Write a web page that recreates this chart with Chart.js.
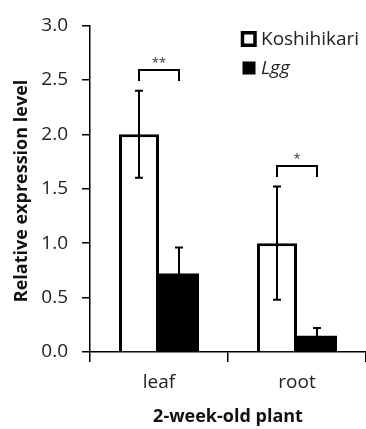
<!DOCTYPE html>
<html>
<head>
<meta charset="utf-8">
<script src="https://cdn.jsdelivr.net/npm/chart.js@4"></script>
<style>
  html, body { margin: 0; padding: 0; background: #fff; }
  #wrap { width: 366px; height: 429px; }
</style>
</head>
<body>
<div id="wrap"><canvas id="c" width="366" height="429"></canvas></div>
<script>
// Tissues sampled from 2-week-old plants
const categories = ['leaf', 'root'];
// Mean relative expression level per genotype
const seriesNames = ['Koshihikari', 'Lgg'];
const koshihikari = [2.0, 1.0];
const lgg = [0.72, 0.15];
// Standard deviations for the error bars
const koshihikariSD = [0.40, 0.52];
const lggSD = [0.24, 0.07];
// Significance marks between the two genotypes in each tissue
const sigLabels = ['**', '*'];
const sigLevels = [2.59, 1.71];
// Y-axis tick settings
const yMin = 0, yMax = 3, yStep = 0.5;
const yTitle = 'Relative expression level';
const xTitle = '2-week-old plant';

const FONT = '"Open Sans", "Noto Sans", sans-serif';

const extras = {
  id: 'extras',
  afterDatasetsDraw(chart) {
    const ctx = chart.ctx;
    const y = chart.scales.y;
    const sds = [koshihikariSD, lggSD];
    ctx.save();
    ctx.strokeStyle = '#000';
    ctx.lineWidth = 2;
    // error bars
    chart.data.datasets.forEach((ds, di) => {
      const meta = chart.getDatasetMeta(di);
      meta.data.forEach((bar, i) => {
        const v = ds.data[i], sd = sds[di][i];
        const x = Math.round(bar.x);
        const top = y.getPixelForValue(v + sd);
        const bot = y.getPixelForValue(v - sd);
        ctx.beginPath();
        ctx.moveTo(x, top); ctx.lineTo(x, bot);
        ctx.moveTo(x - 4, top); ctx.lineTo(x + 4, top);
        ctx.moveTo(x - 4, bot); ctx.lineTo(x + 4, bot);
        ctx.stroke();
      });
    });
    // significance brackets
    const m0 = chart.getDatasetMeta(0), m1 = chart.getDatasetMeta(1);
    ctx.fillStyle = '#333';
    ctx.font = '13px ' + FONT;
    ctx.textAlign = 'center';
    ctx.textBaseline = 'alphabetic';
    sigLevels.forEach((lv, i) => {
      const x0 = Math.round(m0.data[i].x), x1 = Math.round(m1.data[i].x);
      const py = Math.round(y.getPixelForValue(lv));
      ctx.beginPath();
      ctx.moveTo(x0, py + 11); ctx.lineTo(x0, py);
      ctx.lineTo(x1, py); ctx.lineTo(x1, py + 11);
      ctx.stroke();
      ctx.fillText(sigLabels[i], (x0 + x1) / 2, py - 3);
    });
    ctx.restore();
  },
  afterDraw(chart) {
    const ctx = chart.ctx;
    ctx.save();
    // axis titles
    ctx.fillStyle = '#111';
    ctx.font = 'bold 18px ' + FONT;
    ctx.textAlign = 'center';
    ctx.textBaseline = 'alphabetic';
    ctx.fillText(xTitle, 228, 422);
    ctx.translate(27, 191);
    ctx.rotate(-Math.PI / 2);
    ctx.fillText(yTitle, 0, 0);
    ctx.restore();

    // legend
    ctx.save();
    ctx.textBaseline = 'alphabetic';
    ctx.textAlign = 'left';
    ctx.fillStyle = '#000';
    ctx.strokeStyle = '#000';
    ctx.lineWidth = 3.5;
    ctx.strokeRect(242.5, 32.75, 12.5, 12.5);
    ctx.fillRect(242.5, 61.5, 13, 13);
    ctx.fillStyle = '#222';
    ctx.font = '19px ' + FONT;
    ctx.fillText(seriesNames[0], 261, 44.5);
    ctx.font = 'italic 19px ' + FONT;
    ctx.fillText(seriesNames[1], 261, 73.5);
    ctx.restore();
  }
};

new Chart(document.getElementById('c'), {
  type: 'bar',
  data: {
    labels: categories,
    datasets: [
      {
        label: seriesNames[0],
        data: koshihikari,
        backgroundColor: '#fff',
        borderColor: '#000',
        borderWidth: 3,
        borderSkipped: 'start'
      },
      {
        label: seriesNames[1],
        data: lgg,
        backgroundColor: '#000',
        borderColor: '#000',
        borderWidth: 0
      }
    ]
  },
  options: {
    responsive: false,
    animation: false,
    events: [],
    layout: { padding: { top: 16, left: 0, right: 0, bottom: 0 } },
    datasets: { bar: { categoryPercentage: 0.58, barPercentage: 1.0 } },
    plugins: {
      legend: { display: false },
      tooltip: { enabled: false }
    },
    scales: {
      x: {
        offset: true,
        grid: { offset: true, drawOnChartArea: false, drawTicks: true, tickLength: 10, color: '#000', lineWidth: 1.5 },
        border: { display: true, color: '#000', width: 1.5 },
        ticks: { color: '#222', font: { family: FONT, size: 19 }, padding: 9 },
        afterFit(s) { s.height = 77; }
      },
      y: {
        min: yMin,
        max: yMax,
        ticks: {
          stepSize: yStep,
          color: '#222',
          font: { family: FONT, size: 19 },
          padding: 14,
          callback: v => v.toFixed(1)
        },
        grid: { drawOnChartArea: false, drawTicks: true, tickLength: 8, color: '#000', lineWidth: 1.5 },
        border: { display: true, color: '#000', width: 1.5 },
        afterFit(s) { s.width = 90; }
      }
    }
  },
  plugins: [extras]
});
</script>
</body>
</html>
